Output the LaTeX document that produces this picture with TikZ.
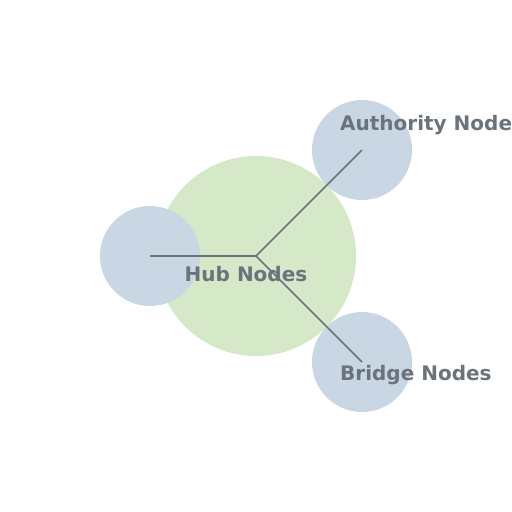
\documentclass[tikz,border=0pt]{standalone}
\usepackage{fontspec}
\setmainfont{DejaVu Sans}
\definecolor{hubgreen}{HTML}{D5E8C8}
\definecolor{nodeblue}{HTML}{C9D6E4}
\definecolor{inkgray}{HTML}{6A737B}
\tikzset{
  blob/.style={circle,inner sep=0pt,minimum size=#1},
  lbl/.style={text=inkgray,font=\bfseries\fontsize{20}{24}\selectfont,inner sep=0pt},
  spoke/.style={draw=inkgray,line width=1.5pt}
}
\begin{document}
\begin{tikzpicture}[x=1pt,y=-1pt]
\useasboundingbox (0,0) rectangle (512,512);
\node[blob=200pt,fill=hubgreen](hub) at (256,256){};
\node[blob=100pt,fill=nodeblue](left) at (150,256){};
\node[blob=100pt,fill=nodeblue](auth) at (362,150){};
\node[blob=100pt,fill=nodeblue](bridge) at (362,362){};
\draw[spoke](hub.center)--(left.center);
\draw[spoke](hub.center)--(auth.center);
\draw[spoke](hub.center)--(bridge.center);
\node[lbl](hublbl) at (246,274){Hub Nodes};
\node[lbl,anchor=west](authlbl) at (340,125.5){Authority Node};
\node[lbl,anchor=west](bridgelbl) at (340,375.5){Bridge Nodes};
\end{tikzpicture}
\end{document}
